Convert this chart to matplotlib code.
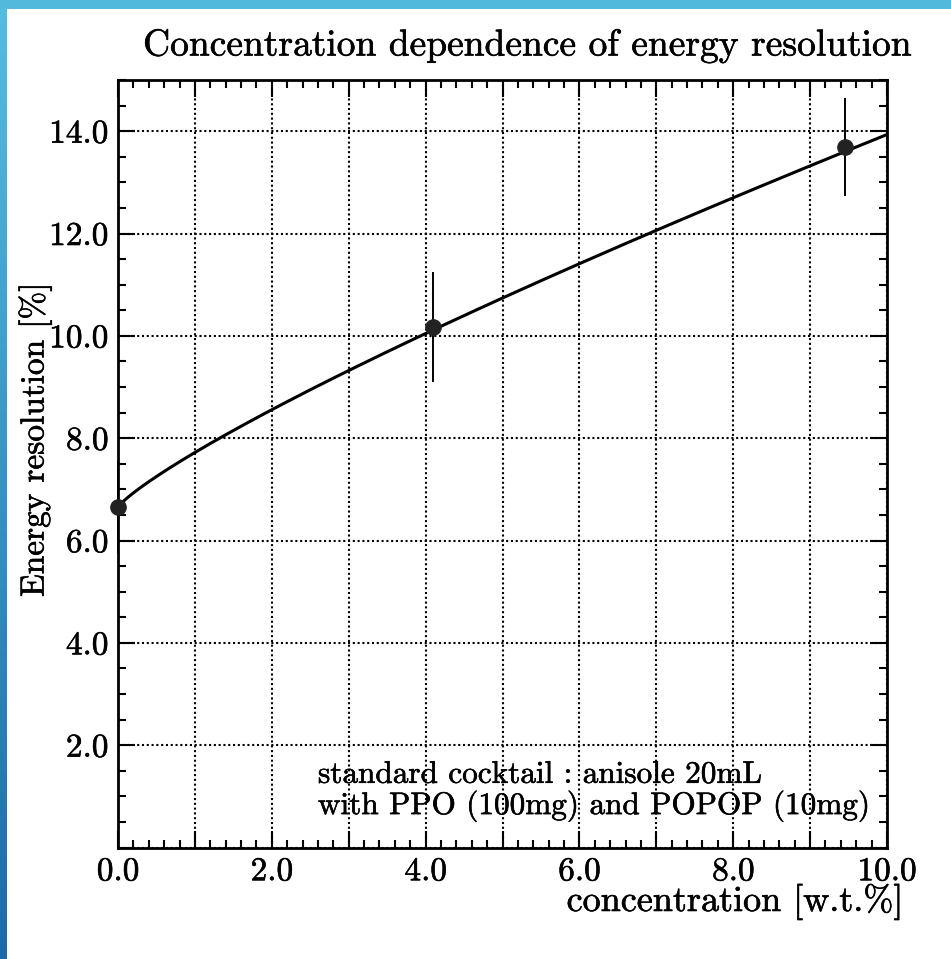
import numpy as np
import matplotlib
matplotlib.use("Agg")
import matplotlib.pyplot as plt
import matplotlib.patheffects as pe
from matplotlib.ticker import MultipleLocator, FuncFormatter
from matplotlib.colors import LinearSegmentedColormap

# ---- data ----
conc = [0.0, 4.1, 9.45]
resolution = [6.65, 10.17, 13.69]
res_err = [0.9, 1.08, 0.95]

# fit curve parameters: y = a + b * x**c
fit_a, fit_b, fit_c = 6.65, 1.07, 0.833

x_ticks = [0, 2, 4, 6, 8, 10]
y_ticks = [2, 4, 6, 8, 10, 12, 14]

title = "Concentration dependence of energy resolution"
xlabel = "concentration [w.t.%]"
ylabel = "Energy resolution [%]"
note_lines = ["standard cocktail : anisole 20mL",
              "with PPO (100mg) and POPOP (10mg)"]

plt.rcParams['font.family'] = ['cmr10', 'DejaVu Serif']
plt.rcParams['axes.formatter.use_mathtext'] = True

W, H = 951, 959
fig = plt.figure(figsize=(W / 100, H / 100), dpi=100)
fig.patch.set_facecolor('white')

bold = [pe.withStroke(linewidth=0.4, foreground='black')]

# decorative blue borders
grad = fig.add_axes([0, 0, 7 / W, 1])
g = np.linspace(0, 1, 256).reshape(-1, 1)
cmap = LinearSegmentedColormap.from_list('b', ['#55bde0', '#1d6aa8'])
grad.imshow(g, aspect='auto', cmap=cmap, extent=[0, 1, 0, 1], origin='upper')
grad.axis('off')
topbar = fig.add_axes([0, 1 - 9 / H, 1, 9 / H])
topbar.set_facecolor('#52b9dc')
topbar.set_xticks([]); topbar.set_yticks([])
for s in topbar.spines.values():
    s.set_visible(False)

ax = fig.add_axes([118 / W, 1 - 847.5 / H, (887 - 118) / W, (847.5 - 80) / H])
ax.set_xlim(0, 10)
ax.set_ylim(0, 15)

# fit curve
xf = np.linspace(0, 10, 300)
ax.plot(xf, fit_a + fit_b * xf ** fit_c, color='black', lw=2.2, zorder=3)

ax.errorbar(conc, resolution, yerr=res_err, fmt='o', color='black',
            ms=11, mfc='#222222', mec='#222222', elinewidth=1.4, capsize=0,
            zorder=4, clip_on=False)

ax.xaxis.set_major_locator(MultipleLocator(1))
ax.xaxis.set_minor_locator(MultipleLocator(0.2))
ax.xaxis.set_major_formatter(FuncFormatter(
    lambda v, p: f"{v:.1f}" if round(v) in x_ticks else ""))
ax.yaxis.set_major_locator(MultipleLocator(2))
ax.yaxis.set_minor_locator(MultipleLocator(0.5))
ax.yaxis.set_major_formatter(FuncFormatter(
    lambda v, p: f"{v:.1f}" if round(v) in y_ticks else ""))

ax.tick_params(which='both', direction='in', top=True, right=True,
               labelsize=24, colors='black')
ax.tick_params(which='major', length=12, width=1.5, pad=7)
ax.tick_params(which='minor', length=6, width=1.5)
for s in ax.spines.values():
    s.set_linewidth(2.0)
for lbl in ax.get_xticklabels() + ax.get_yticklabels():
    lbl.set_path_effects(bold)

ax.grid(True, which='major', color='black', linestyle=(0, (1, 1.3)), lw=1.5)

fig.text(527 / W, 1 - 45 / H, title, ha='center', va='center', fontsize=27,
         path_effects=bold)
fig.text(903 / W, 1 - 902 / H, xlabel, ha='right', va='center', fontsize=26,
         path_effects=bold)
fig.text(35 / W, 1 - 440 / H, ylabel, ha='center', va='center', rotation=90,
         fontsize=24, path_effects=bold)
ax.text(2.6, 1.42, note_lines[0], fontsize=22.5, va='center', ha='left',
        path_effects=bold)
ax.text(2.6, 0.80, note_lines[1], fontsize=22.5, va='center', ha='left',
        path_effects=bold)

fig.savefig('out.png', dpi=100)
